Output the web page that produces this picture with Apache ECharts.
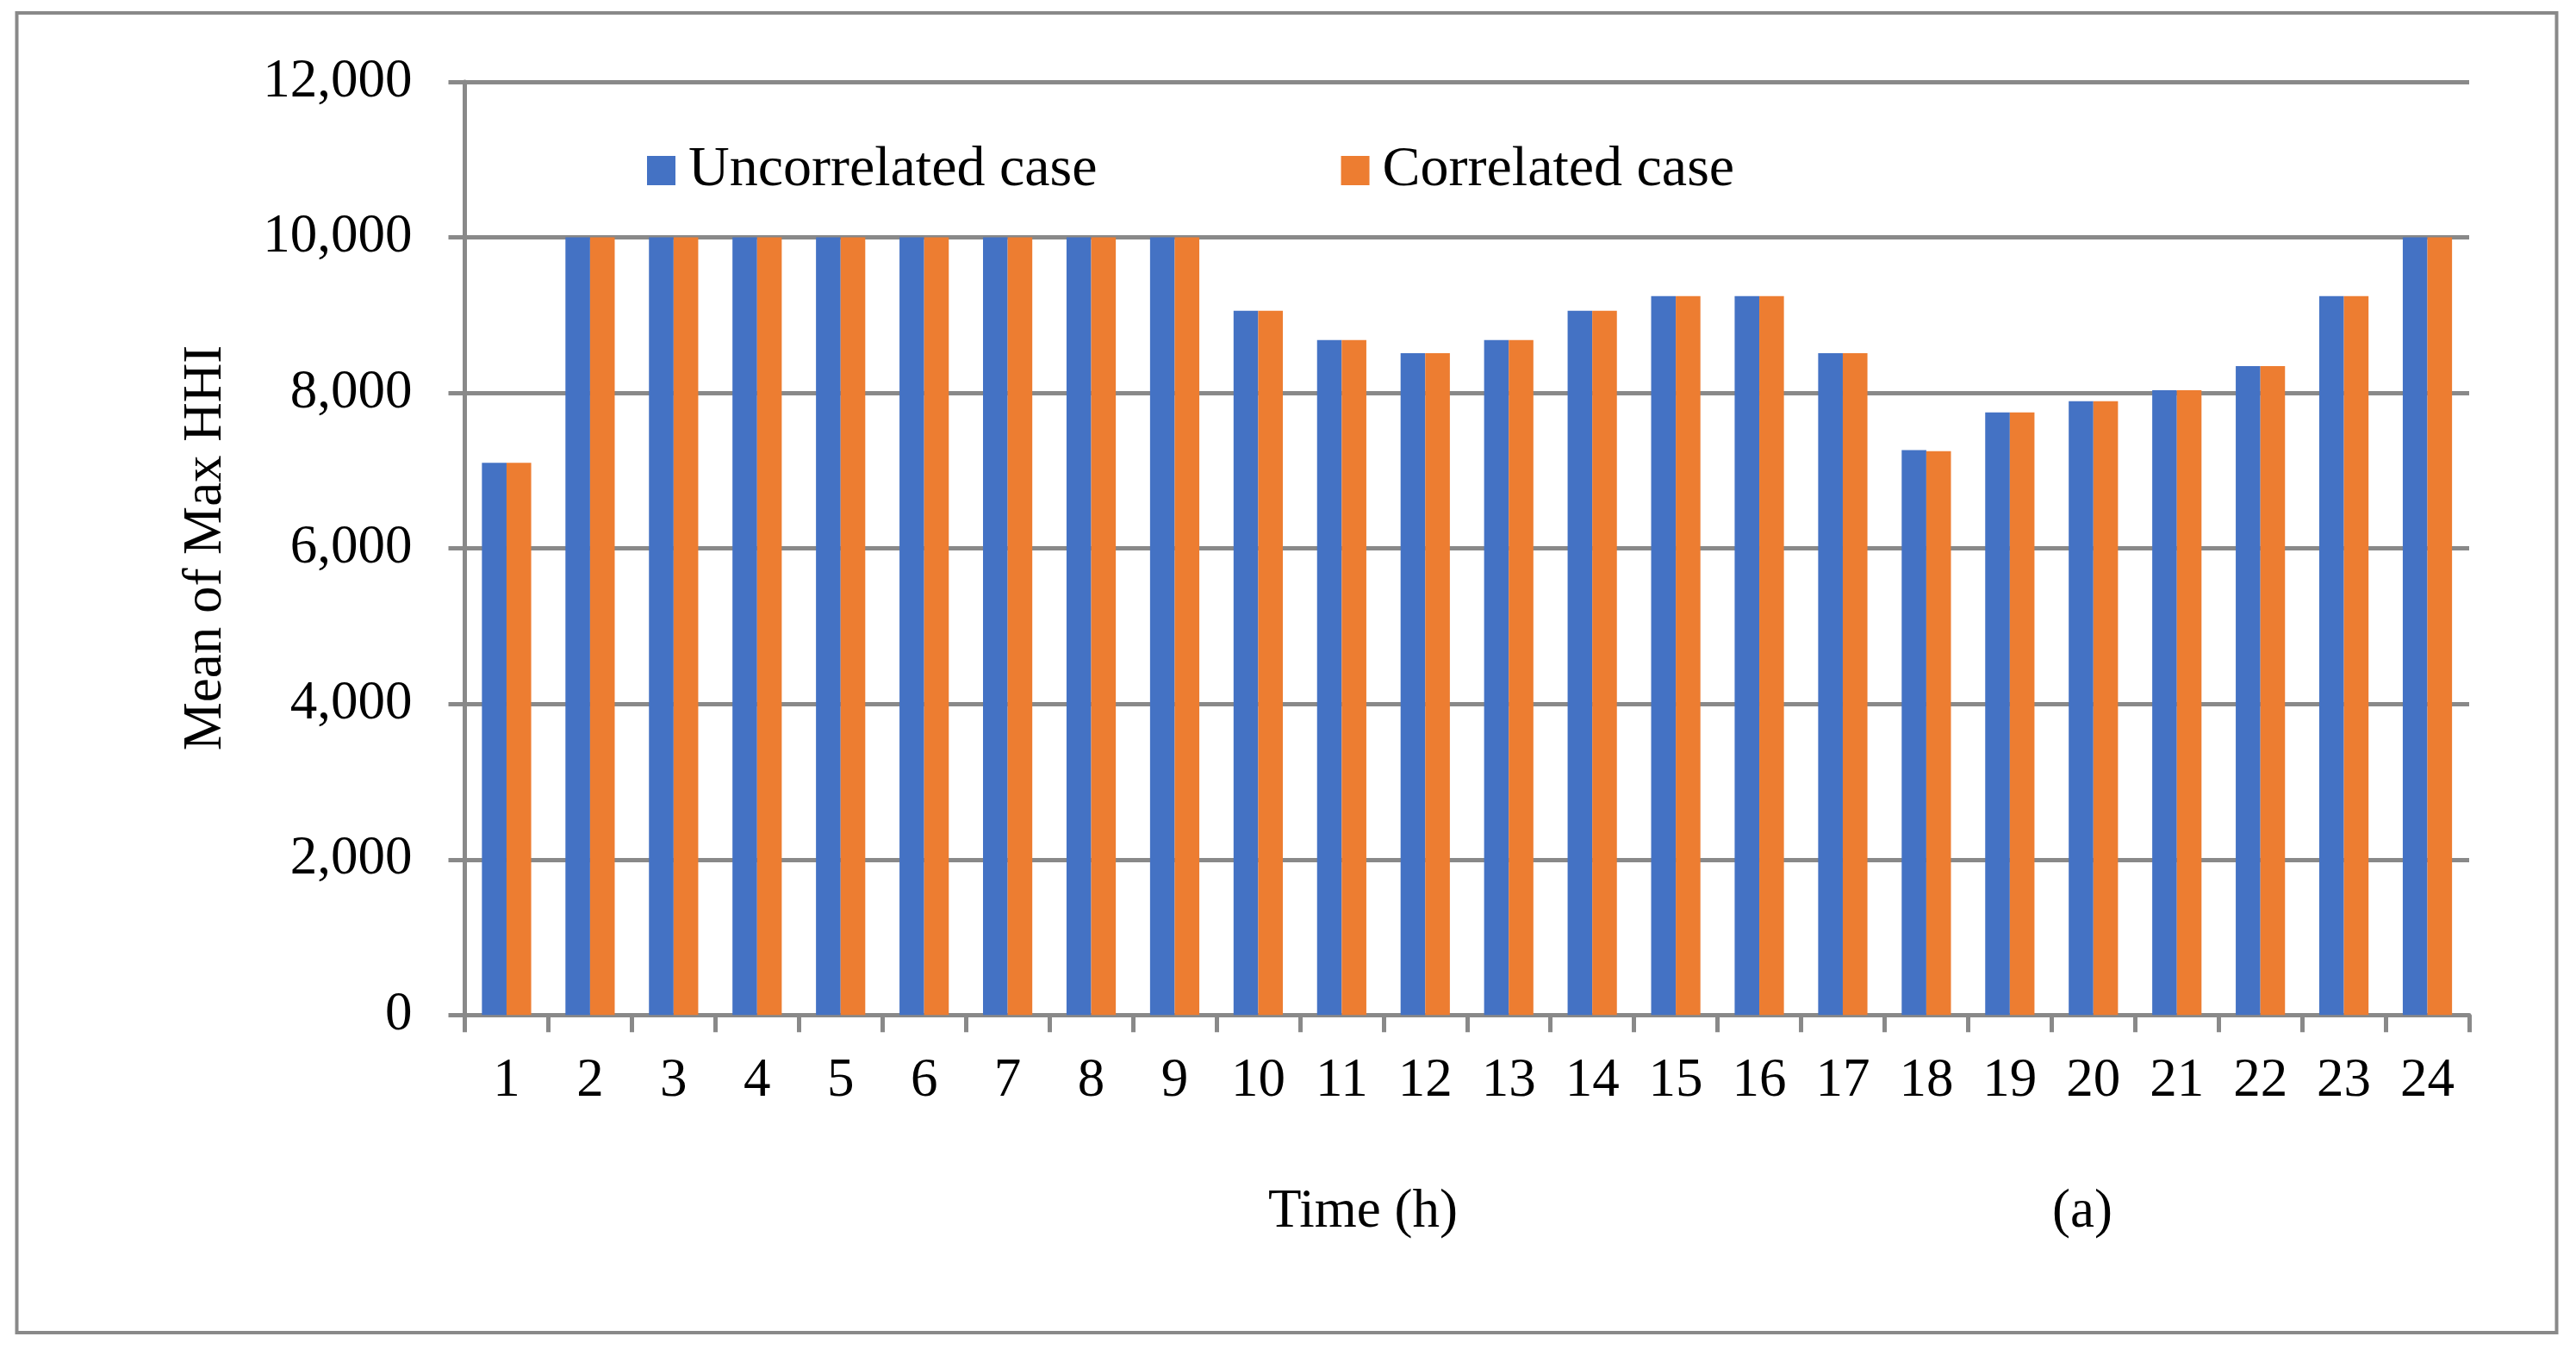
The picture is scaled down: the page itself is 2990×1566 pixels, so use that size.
<!DOCTYPE html>
<html>
<head>
<meta charset="utf-8">
<script src="https://cdn.jsdelivr.net/npm/echarts@6/dist/echarts.min.js"></script>
<style>
html,body{margin:0;padding:0;background:#fff;}
#chart{width:2990px;height:1566px;}
</style>
</head>
<body>
<div id="chart"></div>
<script>
// ---- data ----
var hours = ['1','2','3','4','5','6','7','8','9','10','11','12','13','14','15','16','17','18','19','20','21','22','23','24'];
var uncorrelated = [7100,10000,10000,10000,10000,10000,10000,10000,10000,9055,8680,8512,8680,9055,9245,9245,8512,7265,7750,7892,8035,8345,9245,10000];
var correlated   = [7100,10000,10000,10000,10000,10000,10000,10000,10000,9055,8680,8512,8680,9055,9245,9245,8512,7250,7750,7892,8035,8345,9245,10000];
var seriesNames = ['Uncorrelated case','Correlated case'];
var yTicks = {min:0, max:12000, interval:2000};
var yTitle = 'Mean of Max HHI';
var xTitle = 'Time (h)';
var panelTag = '(a)';

var FONT = "'Liberation Serif','Times New Roman',serif";
var GRAY = '#898989';

var chart = echarts.init(document.getElementById('chart'));
chart.setOption({
  backgroundColor:'#ffffff',
  animation:false,
  textStyle:{fontFamily:FONT},
  grid:{left:539.5, right:124, top:95, bottom:387.7, containLabel:false},
  legend:{
    data:seriesNames,
    left:746, top:160,
    icon:'rect',
    itemWidth:33, itemHeight:34,
    itemGap:283,
    textStyle:{fontFamily:FONT, fontSize:66, color:'#000', lineHeight:34, padding:[0,0,0,10]}
  },
  xAxis:{
    type:'category',
    data:hours,
    axisLine:{show:true, lineStyle:{color:GRAY, width:5}},
    axisTick:{show:true, length:20, lineStyle:{color:GRAY, width:5}},
    axisLabel:{fontFamily:FONT, fontSize:63, color:'#000', margin:46, interval:0},
    splitLine:{show:false}
  },
  yAxis:{
    type:'value',
    min:yTicks.min, max:yTicks.max, interval:yTicks.interval,
    axisLine:{show:true, lineStyle:{color:GRAY, width:5}},
    axisTick:{show:true, length:19, lineStyle:{color:GRAY, width:5}},
    axisLabel:{fontFamily:FONT, fontSize:63, color:'#000', margin:61,
      formatter:function(v){return v.toLocaleString('en-US');}},
    splitLine:{show:true, lineStyle:{color:GRAY, width:5}}
  },
  series:[
    {name:seriesNames[0], type:'bar', data:uncorrelated, barGap:'0%', barCategoryGap:'41%',
     itemStyle:{color:'#4472C4'}},
    {name:seriesNames[1], type:'bar', data:correlated, barGap:'0%', barCategoryGap:'41%',
     itemStyle:{color:'#ED7D31'}}
  ],
  graphic:[
    {type:'rect', z:-1, shape:{x:19.5, y:15, width:2948, height:1532},
     style:{fill:'none', stroke:GRAY, lineWidth:4}},
    {type:'text', x:239, y:636, rotation:Math.PI/2,
     style:{text:yTitle, fontFamily:FONT, fontSize:63, fill:'#000', textAlign:'center', textVerticalAlign:'middle'}},
    {type:'text', x:1582, y:1407,
     style:{text:xTitle, fontFamily:FONT, fontSize:63, fill:'#000', textAlign:'center', textVerticalAlign:'middle'}},
    {type:'text', x:2417, y:1407,
     style:{text:panelTag, fontFamily:FONT, fontSize:63, fill:'#000', textAlign:'center', textVerticalAlign:'middle'}}
  ]
});
</script>
</body>
</html>
